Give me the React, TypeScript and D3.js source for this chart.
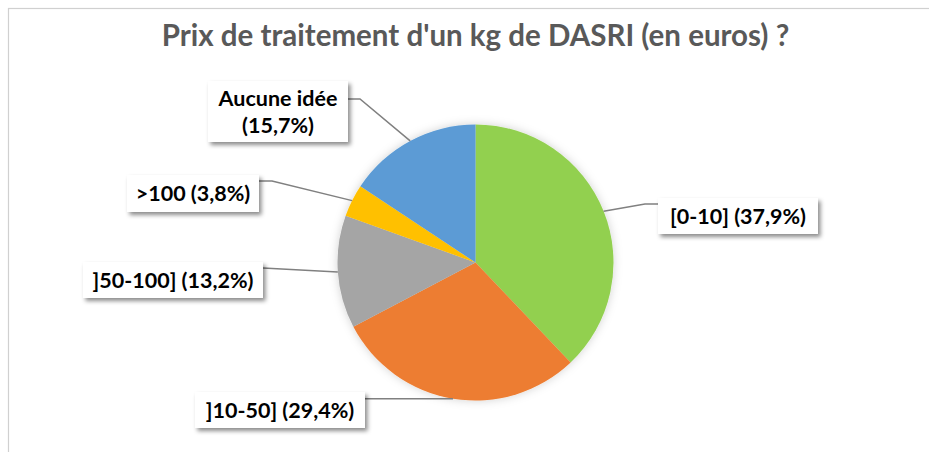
import React from "react";
import * as d3 from "d3";

const categories = ["[0-10]", "]10-50]", "]50-100]", ">100", "Aucune idée"];
const values = [37.9, 29.4, 13.2, 3.8, 15.7];
const valueLabels = ["37,9%", "29,4%", "13,2%", "3,8%", "15,7%"];
const colors = ["#92D050", "#ED7D31", "#A5A5A5", "#FFC000", "#5B9BD5"];
const title = "Prix de traitement d'un kg de DASRI (en euros) ?";

// label box layout
const labelBoxes = [
  { x: 658, y: 198, w: 160, h: 36, elbowX: 645, side: "left" },
  { x: 195, y: 392, w: 170, h: 36, elbowX: 365, side: "right" },
  { x: 83, y: 262, w: 180, h: 36, elbowX: 263, side: "right" },
  { x: 127, y: 175, w: 132, h: 37, elbowX: 272, side: "right" },
  { x: 208, y: 81, w: 140, h: 61, elbowX: 360, side: "right" },
];

export default function App() {
  const W = 929, H = 452;
  const cx = 475.5, cy = 262.5, r = 138;
  const pie = d3.pie<number>().sort(null).value((d) => d);
  const arcs = pie(values);
  const arc = d3.arc<d3.PieArcDatum<number>>().innerRadius(0).outerRadius(r);
  const font = "Lato, 'Open Sans', sans-serif";
  const fs = 21.5;

  return (
    <svg width={W} height={H} style={{ position: "absolute", left: 0, top: 0, background: "#fff" }}>
      <defs>
        <filter id="shadow" x="-20%" y="-30%" width="150%" height="170%">
          <feDropShadow dx="2.5" dy="3" stdDeviation="2.2" floodColor="#000" floodOpacity="0.45" />
        </filter>
        <filter id="pieShadow" x="-20%" y="-20%" width="140%" height="140%">
          <feDropShadow dx="0" dy="0" stdDeviation="5" floodColor="#000" floodOpacity="0.18" />
        </filter>
      </defs>
      <rect x={8.5} y={8.5} width={960} height={480} fill="#fff" stroke="#d0d0d0" strokeWidth={1.2} />
      <text x={475.5} y={46} textAnchor="middle" fontFamily={font} fontWeight={700} fontSize={29.5} fill="#595959">
        {title}
      </text>
      <g transform={`translate(${cx},${cy})`} filter="url(#pieShadow)">
        {arcs.map((a, i) => (
          <path key={i} d={arc(a) || ""} fill={colors[i]} />
        ))}
      </g>
      {arcs.map((a, i) => {
        const mid = (a.startAngle + a.endAngle) / 2;
        const px = cx + r * Math.sin(mid);
        const py = cy - r * Math.cos(mid);
        const b = labelBoxes[i];
        const isTwo = i === 4;
        const ly = isTwo ? b.y + 18 : b.y + 6;
        const bx = b.side === "left" ? b.x : b.x + b.w;
        const pts: [number, number][] = i === 1 || i === 2
          ? [[px, py], [bx, i === 2 ? b.y + 6 : py]]
          : [[px, py], [b.elbowX, ly], [bx, ly]];
        const line = d3.line()(pts) || "";
        return (
          <g key={i}>
            <path d={line} fill="none" stroke="#808080" strokeWidth={1.5} />
            <rect x={b.x} y={b.y} width={b.w} height={b.h} fill="#fff" filter="url(#shadow)" />
            {isTwo ? (
              <text textAnchor="middle" fontFamily={font} fontWeight={700} fontSize={fs} fill="#000">
                <tspan x={b.x + b.w / 2} y={b.y + 25}>{categories[i]}</tspan>
                <tspan x={b.x + b.w / 2} y={b.y + 52}>({valueLabels[i]})</tspan>
              </text>
            ) : (
              <text x={b.x + b.w / 2} y={b.y + 26} textAnchor="middle" fontFamily={font} fontWeight={700} fontSize={fs} fill="#000">
                {categories[i]} ({valueLabels[i]})
              </text>
            )}
          </g>
        );
      })}
    </svg>
  );
}
